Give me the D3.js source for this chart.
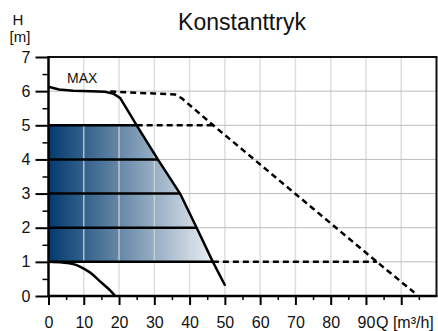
<!DOCTYPE html>
<html><head><meta charset="utf-8">
<script src="https://cdn.jsdelivr.net/npm/d3@7"></script>
<style>html,body{margin:0;padding:0;background:#fff;}svg{display:block;font-family:"Liberation Sans",Arial,sans-serif;}</style>
</head><body>
<script>
const title = "Konstanttryk";
const qTicks = [0,10,20,30,40,50,60,70,80,90];
const qGrid = [10,20,30,40,50,60,70,80,90,100];
const qMinor = [5,15,25,35,45,55,65,75,85,95,105];
const hTicks = [0,1,2,3,4,5,6,7];
const hMinor = [0.5,1.5,2.5,3.5,4.5,5.5,6.5];
const maxCurve = [[0,6.13],[3,6.05],[7,6.01],[12,6.0],[16,5.98],[18.5,5.92],[20.3,5.8],[25,5.0],[31,4.0],[37.3,3.0],[42,2.0],[46.6,1.0],[50.1,0.3]];
const maxExtension = [[17.5,5.99],[30,5.93],[35.9,5.9],[37.8,5.79],[46.7,5.0],[93.1,1.0],[103.7,0.1]];
const levels = [1,2,3,4,5];
const levelEnds = [46.6,42,37.3,31,25];
const dashH5 = [[25,5],[46.7,5]];
const dashH1 = [[46.6,1],[93.1,1]];
const minCurve = [[0,1],[4,0.98],[7.6,0.92],[10,0.8],[12.5,0.63],[14.6,0.43],[17.4,0.17],[18.9,0]];
const fillArea = [[0,5],[25,5],[31,4],[37.3,3],[42,2],[46.6,1],[0,1]];

const W=438,H=331;
const svg=d3.select("body").append("svg").attr("width",W).attr("height",H);
const x=d3.scaleLinear().domain([0,110]).range([48.5,436.5]);
const y=d3.scaleLinear().domain([0,7]).range([296,57]);

const defs=svg.append("defs");
const grad=defs.append("linearGradient").attr("id","g").attr("gradientUnits","userSpaceOnUse")
  .attr("x1",x(0)).attr("x2",x(51)).attr("y1",0).attr("y2",0);
grad.append("stop").attr("offset","0").attr("stop-color","#023a6e");
grad.append("stop").attr("offset","1").attr("stop-color","#ffffff");

const line=d3.line().x(d=>x(d[0])).y(d=>y(d[1]));

svg.append("path").datum(fillArea).attr("d",line).attr("fill","url(#g)");

// grid
svg.append("g").selectAll("line").data(qGrid).join("line")
  .attr("x1",d=>x(d)).attr("x2",d=>x(d)).attr("y1",y(7)).attr("y2",y(0))
  .attr("stroke","#d6d6d6").attr("stroke-opacity",0.8).attr("stroke-width",1.5);
svg.append("g").selectAll("line").data(hTicks.filter(d=>d>0&&d<7)).join("line")
  .attr("x1",x(0)).attr("x2",x(110)).attr("y1",d=>y(d)).attr("y2",d=>y(d))
  .attr("stroke","#bdbdbd").attr("stroke-width",1);

// axes
const xAxis=d3.axisBottom(x).tickValues(qTicks).tickSize(9).tickFormat(d3.format("d"));
const gx=svg.append("g").attr("transform",`translate(0,${y(0)})`).call(xAxis);
gx.select(".domain").remove();
gx.selectAll(".tick line").attr("stroke","#000").attr("stroke-width",2);
gx.selectAll(".tick text").attr("font-size",16).attr("fill","#111").attr("y",32).attr("dy",null)
  .attr("font-family","Liberation Sans, Arial, sans-serif");
const xMin=d3.axisBottom(x).tickValues(qMinor.concat([100])).tickSize(4).tickFormat("");
const gxm=svg.append("g").attr("transform",`translate(0,${y(0)})`).call(xMin);
gxm.select(".domain").remove();
gxm.selectAll(".tick line").attr("stroke","#000").attr("stroke-width",1.5);
gxm.selectAll(".tick").filter(d=>d===100).select("line").attr("y2",9).attr("stroke-width",2);

const yAxis=d3.axisLeft(y).tickValues(hTicks).tickSize(13).tickFormat(d3.format("d"));
const gy=svg.append("g").attr("transform",`translate(${x(0)},0)`).call(yAxis);
gy.select(".domain").remove();
gy.selectAll(".tick line").attr("stroke","#000").attr("stroke-width",2);
gy.selectAll(".tick text").attr("font-size",16).attr("fill","#111").attr("x",-18)
  .attr("font-family","Liberation Sans, Arial, sans-serif");
const yMin=d3.axisLeft(y).tickValues(hMinor).tickSize(6).tickFormat("");
const gym=svg.append("g").attr("transform",`translate(${x(0)},0)`).call(yMin);
gym.select(".domain").remove();
gym.selectAll(".tick line").attr("stroke","#000").attr("stroke-width",1.5);

// frame
svg.append("line").attr("x1",x(0)).attr("x2",x(110)+1).attr("y1",y(7)).attr("y2",y(7)).attr("stroke","#111").attr("stroke-width",2);
svg.append("line").attr("x1",x(110)).attr("x2",x(110)).attr("y1",y(7)).attr("y2",y(0)).attr("stroke","#111").attr("stroke-width",2);
svg.append("line").attr("x1",x(0)).attr("x2",x(110)+1).attr("y1",y(0)).attr("y2",y(0)).attr("stroke","#000").attr("stroke-width",2.5);
svg.append("line").attr("x1",x(0)).attr("x2",x(0)).attr("y1",y(7)-1).attr("y2",y(0)+1).attr("stroke","#000").attr("stroke-width",2.5);

// level lines
svg.append("g").selectAll("line").data(levels).join("line")
  .attr("x1",x(0)).attr("x2",(d,i)=>x(levelEnds[i])).attr("y1",d=>y(d)).attr("y2",d=>y(d))
  .attr("stroke","#000").attr("stroke-width",2.5);

// dashed
[maxExtension,dashH5,dashH1].forEach(p=>{
  svg.append("path").datum(p).attr("d",line).attr("fill","none").attr("stroke","#000")
    .attr("stroke-width",2.5).attr("stroke-dasharray","6,4");
});

// curves
svg.append("path").datum(maxCurve).attr("d",line).attr("fill","none").attr("stroke","#000").attr("stroke-width",2.5).attr("stroke-linejoin","round");
svg.append("path").datum(minCurve).attr("d",d3.line().x(d=>x(d[0])).y(d=>y(d[1])).curve(d3.curveMonotoneX))
  .attr("fill","none").attr("stroke","#000").attr("stroke-width",2.5);

// texts
svg.append("text").attr("x",242).attr("y",30).attr("text-anchor","middle").attr("font-size",23).attr("fill","#111").text(title);
svg.append("text").attr("x",18).attr("y",25).attr("text-anchor","middle").attr("font-size",15).attr("fill","#111").text("H");
svg.append("text").attr("x",20).attr("y",42).attr("text-anchor","middle").attr("font-size",15).attr("fill","#111").text("[m]");
svg.append("text").attr("x",67).attr("y",83).attr("font-size",14).attr("fill","#111").text("MAX");
svg.append("text").attr("x",376).attr("y",328).attr("font-size",16).attr("fill","#111").text("Q [m³/h]");
</script>
</body></html>
